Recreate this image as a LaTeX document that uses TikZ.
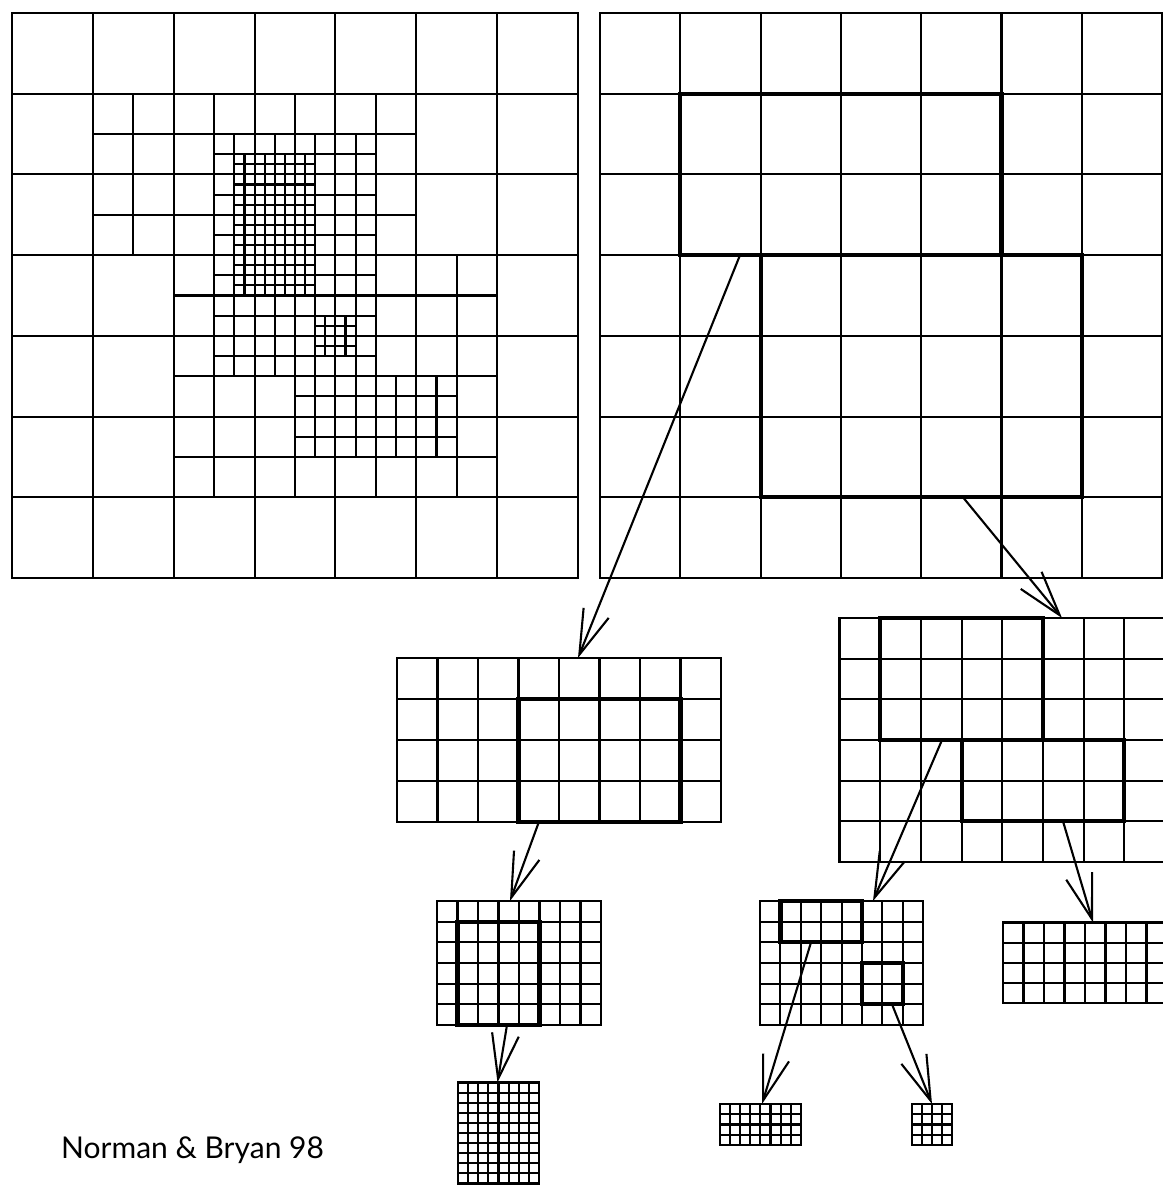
\documentclass[tikz,border=0pt]{standalone}
\usepackage{fontspec}
\setmainfont{Lato}
\usetikzlibrary{arrows.meta}
\tikzset{
  thinline/.style={line width=2.1pt, draw=black},
  boldline/.style={line width=4.2pt, draw=black},
  gridframe/.style={draw=black, line width=2.1pt, inner sep=0pt, outer sep=0pt, rectangle},
  arr/.style={line width=2.1pt, draw=black, -{Straight Barb[length=45pt,width=27pt]}},
}
% rectangle of nx x ny cells, with its inner lines (coordinates only)
\newcommand\cells[6]{%
  \draw[thinline] (#1,#2) rectangle ++({#3*#5},{#4*#6});
  \pgfmathtruncatemacro\cnx{#3-1}%
  \pgfmathtruncatemacro\cny{#4-1}%
  \foreach \i in {1,...,\cnx} {\draw[thinline] ({#1+\i*#5},#2) -- ++(0,{#4*#6});}%
  \foreach \j in {1,...,\cny} {\draw[thinline] (#1,{#2+\j*#6}) -- ++({#3*#5},0);}%
}
% named grid node: name, x0, y0, nx, ny, dx, dy
\newcommand\gridnode[7]{%
  \node[gridframe, anchor=north west, minimum width={#4*#6*1pt}, minimum height={#5*#7*1pt}] (#1) at (#2,#3) {};
  \cells{#2}{#3}{#4}{#5}{#6}{#7}%
}
\begin{document}
\begin{tikzpicture}[x=1pt, y=-1pt]
\useasboundingbox (0,0) rectangle (1162,1185);

% ---------- left refined grid ----------
\node[gridframe, anchor=north west, minimum width=566pt, minimum height=565pt] (G0) at (12,13) {};
\begin{scope}[shift={(12,13)}, x=80.857pt, y=-80.714pt]
  \cells{0}{0}{7}{7}{1}{1}
  \cells{1}{1}{8}{4}{0.5}{0.5}
  \cells{2}{3}{8}{6}{0.5}{0.5}
  \cells{2.5}{1.5}{8}{12}{0.25}{0.25}
  \cells{3.5}{4.5}{8}{4}{0.25}{0.25}
  \cells{2.75}{1.75}{8}{14}{0.125}{0.125}
  \cells{3.75}{3.75}{4}{4}{0.125}{0.125}
\end{scope}

% ---------- right coarse grid ----------
\gridnode{G1}{600}{13}{7}{7}{80.29}{80.71}
\draw[boldline] (680.3,93.7) rectangle (1001.4,255.1);
\draw[boldline] (760.6,255.1) rectangle (1081.7,497.3);
\coordinate (s1) at (740,255.1);
\coordinate (s2) at (963,497.3);

% ---------- level 1 grids ----------
\gridnode{M1}{397}{658}{8}{4}{40.5}{40.9}
\draw[boldline] (518.5,698.9) rectangle (680.5,821.6);
\coordinate (t1) at (578,658);
\coordinate (s3) at (539,821.6);

\gridnode{R1}{839.5}{618}{8}{6}{40.7}{40.67}
\draw[boldline] (880.2,618) rectangle (1042.8,740);
\draw[boldline] (961.6,740) rectangle (1124.3,821.3);
\coordinate (t2) at (1062,618);
\coordinate (s5) at (942,740);
\coordinate (s6) at (1063,821.3);

% ---------- level 2 grids ----------
\gridnode{M2}{437}{901}{8}{6}{20.5}{20.67}
\draw[boldline] (457.5,921.7) rectangle (539.5,1025);
\coordinate (t3) at (510,901);
\coordinate (s4) at (507,1025);

\gridnode{M4}{760}{901}{8}{6}{20.4}{20.67}
\draw[boldline] (780.4,901) rectangle (862,942.3);
\draw[boldline] (862,963) rectangle (902.8,1004.3);
\coordinate (t5) at (873,901);
\coordinate (s7) at (811,942.3);
\coordinate (s8) at (892,1004.3);

\gridnode{R2}{1003}{922.5}{8}{4}{20.5}{20.2}
\coordinate (t6) at (1093,922.5);

% ---------- level 3 grids ----------
\gridnode{M3}{458}{1082.5}{8}{10}{10.125}{10.1}
\coordinate (t4) at (497.5,1082.5);

\gridnode{M5}{720}{1104}{8}{4}{10.1}{10.25}
\coordinate (t7) at (762,1104);
\gridnode{M6}{912}{1104}{4}{4}{10.1}{10.25}
\coordinate (t8) at (932,1104);

% ---------- arrows ----------
\draw[arr] (s1) -- (t1);
\draw[arr] (s2) -- (t2);
\draw[arr] (s3) -- (t3);
\draw[arr] (s4) -- (t4);
\draw[arr] (s5) -- (t5);
\draw[arr] (s6) -- (t6);
\draw[arr] (s7) -- (t7);
\draw[arr] (s8) -- (t8);

% ---------- credit ----------
\node[anchor=base west, inner sep=0pt] (credit) at (61,1158) {\fontsize{30}{36}\selectfont Norman \& Bryan 98};
\end{tikzpicture}
\end{document}
